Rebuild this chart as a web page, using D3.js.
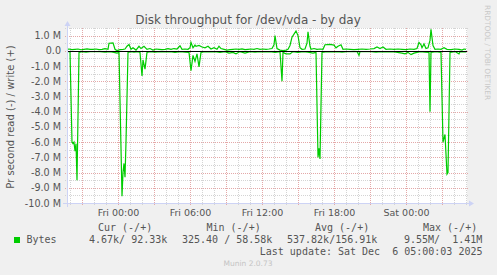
<!DOCTYPE html>
<html>
<head>
<meta charset="utf-8">
<script src="https://cdn.jsdelivr.net/npm/d3@7"></script>
<style>
html, body { margin: 0; padding: 0; background: #f0f0f0; }
svg { display: block; }
text { font-family: "DejaVu Sans", sans-serif; fill: #555; }
.mono { font-family: "DejaVu Sans Mono", monospace; font-size: 10px; white-space: pre; }
</style>
</head>
<body>
<div id="chart"></div>
<script>
const width = 497;
const height = 275;

// graph starts Thu 19:45, 400 px at 5 min each
const startTime = Date.UTC(2025, 11, 4, 19, 45);
const spanMinutes = 2000;

// write bytes/s (MB), plotted above zero
const writeMinutes = [0,10,25,40,55,70,85,100,115,130,145,160,175,190,205,210,230,240,250,265,280,290,300,310,320,330,345,360,370,385,400,415,430,445,460,475,490,505,520,535,550,565,575,590,605,615,620,630,640,645,660,675,690,705,720,735,750,760,770,785,800,815,830,845,860,875,890,905,920,935,950,965,980,995,1010,1025,1035,1040,1050,1065,1080,1095,1105,1115,1125,1135,1145,1155,1165,1175,1190,1200,1205,1215,1220,1235,1250,1265,1280,1290,1315,1335,1345,1355,1370,1380,1395,1415,1435,1455,1475,1495,1515,1535,1550,1565,1580,1595,1615,1635,1655,1675,1695,1715,1735,1750,1760,1770,1775,1785,1795,1805,1815,1820,1830,1840,1855,1870,1885,1900,1920,1940,1960,1975,1985,1995];
const writeValues = [0.1,0.12,0.08,0.1,0.12,0.07,0.1,0.13,0.09,0.1,0.12,0.08,0.1,0.14,0.1,0.5,0.52,0.1,0.02,0.08,0.1,0.12,0.3,0.42,0.1,0.2,0.05,0.3,0.15,0.3,0.1,0.15,0.05,0.12,0.1,0.08,0.1,0.14,0.1,0.15,0.12,0.33,0.1,0.12,0.1,0.2,0.55,0.2,0.38,0.3,0.35,0.25,0.2,0.3,0.12,0.2,0.1,0.3,0.15,0.1,0.05,0.08,0.1,0.12,0.1,0.13,0.08,0.1,0.12,0.1,0.15,0.1,0.12,0.1,0.12,0.15,0.4,1.0,0.15,0.05,0.02,0.05,0.1,0.35,0.9,1.1,1.3,1.0,0.2,0.1,0.12,0.5,1.25,0.3,0.1,0.15,0.1,0.12,0.1,0.4,0.42,0.38,0.2,0.3,0.4,0.1,0.12,0.1,0.08,0.1,0.12,0.1,0.12,0.15,0.25,0.15,0.25,0.1,0.12,0.1,0.12,0.1,0.08,0.12,0.1,0.15,0.55,0.4,0.2,0.45,0.15,0.2,0.7,1.41,0.35,0.1,0.12,0.1,0.2,0.1,0.08,0.12,0.1,0.05,0.12,0.1];

// read bytes/s (MB), plotted below zero
const readMinutes = [0,10,15,25,30,35,40,45,50,60,75,95,115,140,165,190,215,235,250,260,275,280,285,290,295,305,320,335,355,365,375,380,390,400,415,440,465,490,515,540,565,590,610,620,630,640,650,660,670,690,715,740,765,790,810,830,845,865,890,915,940,965,990,1015,1040,1065,1075,1080,1095,1115,1130,1155,1180,1205,1230,1245,1255,1260,1265,1275,1300,1325,1350,1375,1400,1425,1450,1460,1465,1495,1520,1545,1570,1595,1620,1645,1675,1690,1705,1720,1735,1750,1765,1790,1810,1815,1820,1845,1870,1880,1890,1900,1905,1915,1940,1960,1965,1995];
const readValues = [0.05,0.05,0.05,6.0,6.1,6.0,6.6,6.1,8.5,0.1,0.05,0.08,0.05,0.06,0.05,0.08,0.05,0.1,0.15,0.1,9.55,8.0,7.4,8.3,6.0,0.1,0.05,0.08,0.05,0.1,1.65,0.6,1.2,0.1,0.05,0.08,0.05,0.07,0.05,0.1,0.05,0.08,0.1,1.3,0.3,0.7,0.2,1.05,0.1,0.05,0.07,0.05,0.1,0.05,0.15,0.1,0.2,0.05,0.15,0.05,0.08,0.05,0.07,0.05,0.1,0.05,2.0,0.1,0.2,0.2,0.05,0.1,0.05,0.08,0.15,0.1,7.0,6.4,7.1,0.1,0.05,0.07,0.05,0.08,0.05,0.06,0.05,0.3,0.05,0.06,0.05,0.08,0.05,0.07,0.05,0.08,0.15,0.2,0.1,0.25,0.15,0.1,0.05,0.08,0.1,4.0,0.1,0.05,0.1,6.0,5.5,8.1,8.0,0.1,0.05,0.2,0.05,0.07];

const yTickValues = [1,0,-1,-2,-3,-4,-5,-6,-7,-8,-9,-10];
const yTickLabels = ['1.0 M','0.0','-1.0 M','-2.0 M','-3.0 M','-4.0 M','-5.0 M','-6.0 M','-7.0 M','-8.0 M','-9.0 M','-10.0 M'];

const legendHeaders = ['Cur (-/+)', 'Min (-/+)', 'Avg (-/+)', 'Max (-/+)'];
const legendValues = ['4.67k/ 92.33k', '325.40 / 58.58k', '537.82k/156.91k', '9.55M/  1.41M'];

const plotLeft = 67, plotRight = 467, plotTop = 28, plotBottom = 203;

const svg = d3.select('#chart')
  .append('svg')
  .attr('width', width)
  .attr('height', height)

svg.append('rect')
   .attr('width', width)
   .attr('height', height)
   .attr('fill', '#f0f0f0')

const x = d3.scaleUtc()
  .domain([new Date(startTime), new Date(startTime + spanMinutes * 60000)])
  .range([plotLeft, plotRight])

const y = d3.scaleLinear()
  .domain([-10, 1.5])
  .range([plotBottom, plotTop])

const px = v => Math.round(v) + 0.5;

svg.append('rect')
   .attr('x', plotLeft)
   .attr('y', plotTop)
   .attr('width', plotRight - plotLeft)
   .attr('height', plotBottom - plotTop)
   .attr('fill', '#ffffff')

// horizontal grid: minor every 0.5 M, major every 1 M
const hMinor = d3.range(-9.5, 1.6, 1);
svg.append('g').selectAll('line')
   .data(hMinor).enter().append('line')
   .attr('x1', plotLeft - 2).attr('x2', plotRight + 2)
   .attr('y1', d => px(y(d))).attr('y2', d => px(y(d)))
   .attr('stroke', '#d4d4d4').attr('stroke-dasharray', '1,1')

// vertical grid: minor every hour, major every 3 hours
const hours = x.ticks(d3.utcHour.every(1));
svg.append('g').selectAll('line')
   .data(hours.filter(d => d.getUTCHours() % 3 !== 0)).enter().append('line')
   .attr('x1', d => px(x(d))).attr('x2', d => px(x(d)))
   .attr('y1', plotTop).attr('y2', plotBottom + 2)
   .attr('stroke', '#d4d4d4').attr('stroke-dasharray', '1,1')

svg.append('g').selectAll('line')
   .data(yTickValues).enter().append('line')
   .attr('x1', plotLeft - 2).attr('x2', plotRight + 2)
   .attr('y1', d => px(y(d))).attr('y2', d => px(y(d)))
   .attr('stroke', '#e4a8a8').attr('stroke-dasharray', '1,1')

svg.append('g').selectAll('line')
   .data(hours.filter(d => d.getUTCHours() % 3 === 0)).enter().append('line')
   .attr('x1', d => px(x(d))).attr('x2', d => px(x(d)))
   .attr('y1', plotTop).attr('y2', plotBottom + 2)
   .attr('stroke', '#e4a8a8').attr('stroke-dasharray', '1,1')

// data lines
const toPoints = (mins, vals, sign) => mins.map((m, i) => [new Date(startTime + m * 60000), sign * vals[i]]);
const line = d3.line().x(d => x(d[0])).y(d => y(d[1]));

svg.append('path')
   .datum(toPoints(readMinutes, readValues, -1))
   .attr('d', line)
   .attr('fill', 'none')
   .attr('stroke', '#00cc00')
   .attr('stroke-width', 1.2)

svg.append('path')
   .datum(toPoints(writeMinutes, writeValues, 1))
   .attr('d', line)
   .attr('fill', 'none')
   .attr('stroke', '#00cc00')
   .attr('stroke-width', 1.2)

// zero line
svg.append('line')
   .attr('x1', plotLeft).attr('x2', plotRight)
   .attr('y1', px(y(0))).attr('y2', px(y(0)))
   .attr('stroke', '#000000')

// axes lines and arrows
const axisColor = '#cdd3f5';
svg.append('line')
   .attr('x1', plotLeft - 4).attr('x2', plotRight + 4)
   .attr('y1', plotBottom + 0.5).attr('y2', plotBottom + 0.5)
   .attr('stroke', axisColor)
svg.append('line')
   .attr('x1', plotLeft + 0.5).attr('x2', plotLeft + 0.5)
   .attr('y1', plotBottom + 4).attr('y2', plotTop - 4)
   .attr('stroke', axisColor)
svg.append('path')
   .attr('d', `M${plotRight + 2},${plotBottom - 2.5}L${plotRight + 7},${plotBottom + 0.5}L${plotRight + 2},${plotBottom + 3.5}Z`)
   .attr('fill', axisColor)
svg.append('path')
   .attr('d', `M${plotLeft - 2.5},${plotTop - 2}L${plotLeft + 0.5},${plotTop - 7}L${plotLeft + 3.5},${plotTop - 2}Z`)
   .attr('fill', axisColor)

// y tick labels
const yAxis = d3.axisLeft(y)
  .tickValues(yTickValues)
  .tickFormat((d, i) => yTickLabels[i])
  .tickSize(0)
  .tickPadding(6);

const gy = svg.append('g')
  .attr('transform', 'translate(' + plotLeft + ', 0)')
  .call(yAxis)
gy.select('.domain').remove()
gy.selectAll('text')
  .style('font-family', '"DejaVu Sans", sans-serif')
  .style('font-size', '9.6px')
  .attr('fill', '#555')

// x tick labels
const xAxis = d3.axisBottom(x)
  .ticks(d3.utcHour.every(6))
  .tickFormat(d3.utcFormat('%a %H:%M'))
  .tickSize(0)
  .tickPadding(6);

const gx = svg.append('g')
  .attr('transform', 'translate(0, ' + plotBottom + ')')
  .call(xAxis)
gx.select('.domain').remove()
gx.selectAll('text')
  .style('font-family', '"DejaVu Sans", sans-serif')
  .style('font-size', '9.5px')
  .attr('fill', '#555')

// title and axis title
svg.append('text')
   .text('Disk throughput for /dev/vda - by day')
   .attr('x', 248)
   .attr('y', 23.5)
   .attr('text-anchor', 'middle')
   .style('font-size', '12px')

svg.append('text')
   .text('Pr second read (-) / write (+)')
   .attr('transform', 'translate(14, 117) rotate(-90)')
   .attr('text-anchor', 'middle')
   .style('font-size', '10px')

svg.append('text')
   .text('RRDTOOL / TOBI OETIKER')
   .attr('transform', 'translate(485, 5) rotate(90)')
   .style('font-size', '7.4px')
   .style('fill', '#c8c8c8')

// legend
const headerX = [98, 206.5, 315, 423];
svg.selectAll('.hdr')
   .data(legendHeaders).enter().append('text')
   .attr('class', 'mono')
   .attr('x', (d, i) => headerX[i])
   .attr('y', 231)
   .text(d => d)

svg.append('rect')
   .attr('x', 14).attr('y', 237)
   .attr('width', 6).attr('height', 6)
   .attr('fill', '#00cc00')

svg.append('text')
   .attr('class', 'mono')
   .attr('x', 26.5).attr('y', 243)
   .text('Bytes')

const valueX = [89, 182, 287, 404];
svg.selectAll('.val')
   .data(legendValues).enter().append('text')
   .attr('class', 'mono')
   .attr('x', (d, i) => valueX[i])
   .attr('y', 243)
   .text(d => d)

svg.append('text')
   .attr('class', 'mono')
   .attr('x', 482.5).attr('y', 255)
   .attr('text-anchor', 'end')
   .text('Last update: Sat Dec  6 05:00:03 2025')

svg.append('text')
   .text('Munin 2.0.73')
   .attr('x', 248)
   .attr('y', 266)
   .attr('text-anchor', 'middle')
   .style('font-size', '7.5px')
   .style('fill', '#c4c4c4')
</script>
</body>
</html>
